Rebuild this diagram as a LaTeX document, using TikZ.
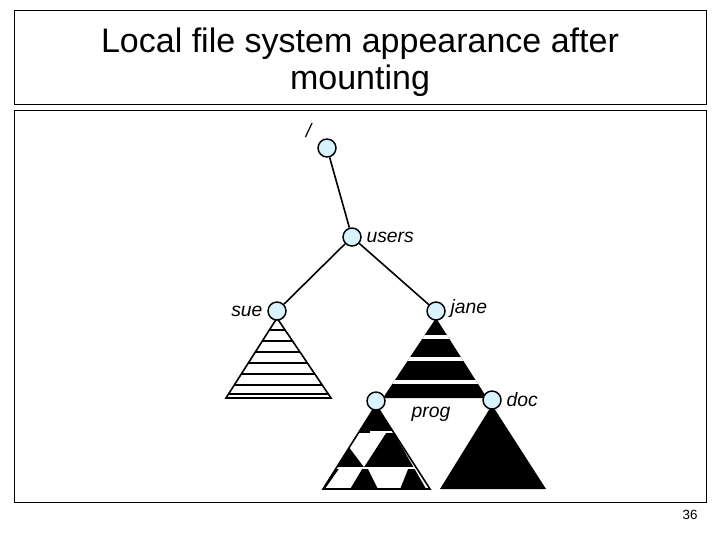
\documentclass[tikz,border=0pt]{standalone}
\usepackage{fontspec}
\setmainfont{Liberation Sans}
\usetikzlibrary{positioning}
\tikzset{
  dir/.style={circle,draw,fill=cyan!15,minimum size=13.5pt,inner sep=0pt,line width=1.1pt},
  lbl/.style={font=\fontsize{14.5}{16}\selectfont\itshape,inner sep=2pt},
  frame/.style={draw,line width=0.6pt}
}
\begin{document}
\begin{tikzpicture}[x=0.75pt,y=-0.75pt,line width=1.2pt]
        \useasboundingbox (0,0) rectangle (720,540);
        % frames
        \draw[frame] (14,10) rectangle (706,104);
        \draw[frame] (14,110) rectangle (706,502);
        \node[align=center,font=\fontsize{25.5}{27.5}\selectfont] (title) at (360,62)
          {Local file system appearance after\\mounting};
        \node[font=\fontsize{10}{12}\selectfont] (page) at (690,515) {36};
        % sue
        \draw[fill=white] (277,318) -- (226,398) -- (331,398) -- cycle;
        \begin{scope}
          \clip (277,318) -- (226,398) -- (331,398) -- cycle;
          \foreach \y in {330,341,352,363,374,385,394}
            \draw[line width=1.4pt] (200,\y) -- (360,\y);
        \end{scope}
        % jane
        \begin{scope}
          \clip (436,318) -- (383,398) -- (487,398) -- cycle;
          \fill (380,315) rectangle (490,400);
          \foreach \y in {337,359,382}
            \draw[white,line width=2.5pt] (370,\y) -- (500,\y);
        \end{scope}
        % doc
        \fill (492,405) -- (440,489) -- (546,489) -- cycle;
        % prog
        \begin{scope}
          \clip (376,405) -- (323,489) -- (430,489) -- cycle;
          \fill (320,400) rectangle (435,490);
          \draw[white,line width=2pt] (370,432) -- (440,432);
          \draw[white,line width=2pt] (320,468) -- (440,468);
          \fill[white] (350,433) -- (386,433) -- (364,467) -- (349,447) -- cycle;
          \fill[white] (339,469) -- (362,469) -- (350,489) -- (325,489) -- cycle;
          \fill[white] (368,469) -- (408,469) -- (400,489) -- (378,489) -- cycle;
          \draw[white,line width=2.2pt] (380,406) -- (428,489);
        \end{scope}
        \draw (376,405) -- (323,489) -- (430,489) -- cycle;
        % nodes
        \node[dir] (root) at (327,148) {};
        \node[dir] (users) at (352,237) {};
        \node[dir] (sue) at (277,311) {};
        \node[dir] (jane) at (436,311) {};
        \node[dir] (prog) at (376,401) {};
        \node[dir] (doc) at (492,400) {};
        \draw (root) -- (users);
        \draw (users) -- (sue);
        \draw (users) -- (jane);
        % labels
        \node[lbl,above left=0pt and 4pt of root] {/};
        \node[lbl,right=1pt of users] {users};
        \node[lbl,left=1pt of sue] {sue};
        \node[lbl,right=1pt of jane,yshift=2pt] {jane};
        \node[lbl,right=1pt of doc] {doc};
        \node[lbl] (proglbl) at (431,414) {prog};
\end{tikzpicture}
\end{document}
